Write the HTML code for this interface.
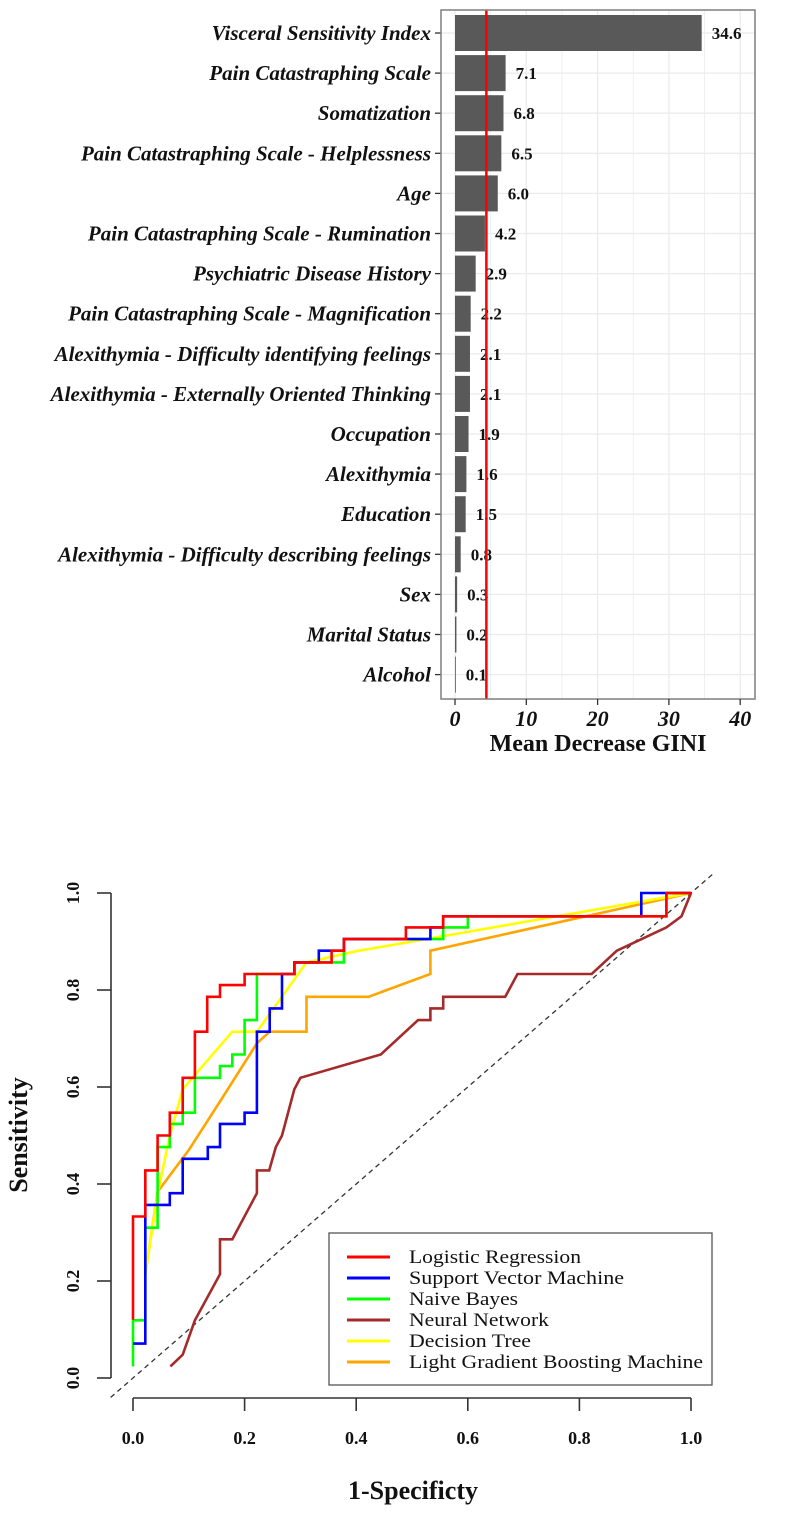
<!DOCTYPE html>
<html><head><meta charset="utf-8">
<style>
html,body{margin:0;padding:0;background:#fff;}
svg{display:block;font-family:"Liberation Serif",serif;}
</style></head>
<body>
<svg id="root" width="797" height="1514" viewBox="0 0 797 1514">
<g id="bar-chart"></g>
<g id="roc-chart"></g>
</svg>
<script>
// ---- Bar chart data ----
const features = ["Visceral Sensitivity Index","Pain Catastraphing Scale","Somatization","Pain Catastraphing Scale - Helplessness","Age","Pain Catastraphing Scale - Rumination","Psychiatric Disease History","Pain Catastraphing Scale - Magnification","Alexithymia - Difficulty identifying feelings","Alexithymia - Externally Oriented Thinking","Occupation","Alexithymia","Education","Alexithymia - Difficulty describing feelings","Sex","Marital Status","Alcohol"];
const giniValues = [34.6,7.1,6.8,6.5,6.0,4.2,2.9,2.2,2.1,2.1,1.9,1.6,1.5,0.8,0.3,0.2,0.1];
const giniLabels = ["34.6","7.1","6.8","6.5","6.0","4.2","2.9","2.2","2.1","2.1","1.9","1.6","1.5","0.8","0.3","0.2","0.1"];
const giniTicks = [0,10,20,30,40];
const giniMean = 4.4;

// ---- ROC data (FPR / TPR) ----
const lrFpr = [0,0,0.022,0.022,0.044,0.044,0.066,0.066,0.089,0.089,0.111,0.111,0.133,0.133,0.156,0.156,0.2,0.2,0.289,0.289,0.356,0.356,0.378,0.378,0.489,0.489,0.556,0.556,0.956,0.956,1];
const lrTpr = [0.12,0.333,0.333,0.428,0.428,0.5,0.5,0.547,0.547,0.619,0.619,0.714,0.714,0.786,0.786,0.81,0.81,0.833,0.833,0.857,0.857,0.881,0.881,0.905,0.905,0.929,0.929,0.952,0.952,1,1];
const svmFpr = [0,0.022,0.022,0.044,0.044,0.066,0.066,0.089,0.089,0.134,0.134,0.156,0.156,0.2,0.2,0.222,0.222,0.245,0.245,0.267,0.267,0.289,0.289,0.333,0.333,0.378,0.378,0.533,0.533,0.556,0.556,0.911,0.911,1];
const svmTpr = [0.071,0.071,0.357,0.357,0.357,0.357,0.381,0.381,0.452,0.452,0.476,0.476,0.524,0.524,0.547,0.547,0.714,0.714,0.762,0.762,0.833,0.833,0.857,0.857,0.881,0.881,0.905,0.905,0.929,0.929,0.952,0.952,1,1];
const nbFpr = [0,0,0.022,0.022,0.044,0.044,0.066,0.066,0.089,0.089,0.111,0.111,0.156,0.156,0.178,0.178,0.2,0.2,0.222,0.222,0.29,0.29,0.378,0.378,0.556,0.556,0.6,0.6,0.956,0.956,1];
const nbTpr = [0.024,0.119,0.119,0.31,0.31,0.476,0.476,0.524,0.524,0.547,0.547,0.619,0.619,0.643,0.643,0.667,0.667,0.738,0.738,0.833,0.833,0.857,0.857,0.905,0.905,0.929,0.929,0.952,0.952,1,1];
const nnFpr = [0.067,0.089,0.111,0.156,0.156,0.178,0.222,0.222,0.244,0.256,0.267,0.289,0.3,0.444,0.511,0.533,0.533,0.556,0.556,0.667,0.689,0.822,0.867,0.956,0.983,1];
const nnTpr = [0.024,0.048,0.119,0.214,0.286,0.286,0.381,0.428,0.428,0.476,0.5,0.595,0.619,0.667,0.738,0.738,0.762,0.762,0.786,0.786,0.833,0.833,0.881,0.929,0.952,1];
const dtFpr = [0.022,0.044,0.066,0.089,0.111,0.178,0.222,0.311,0.4,1];
const dtTpr = [0.214,0.38,0.5,0.595,0.625,0.714,0.714,0.857,0.88,1];
const lgbFpr = [0.022,0.044,0.1,0.156,0.222,0.245,0.311,0.311,0.422,0.533,0.533,1];
const lgbTpr = [0.214,0.384,0.47,0.57,0.69,0.714,0.714,0.786,0.786,0.833,0.881,1];
const rocTicks = [0,0.2,0.4,0.6,0.8,1.0];
const rocTickLabels = ["0.0","0.2","0.4","0.6","0.8","1.0"];
const legendNames = ["Logistic Regression","Support Vector Machine","Naive Bayes","Neural Network","Decision Tree","Light Gradient Boosting Machine"];

const NS="http://www.w3.org/2000/svg";
function mk(parent,tag,attrs,text){const e=document.createElementNS(NS,tag);for(const k in attrs)e.setAttribute(k,attrs[k]);if(text!==undefined)e.textContent=text;parent.appendChild(e);return e;}

// ---- Bar chart ----
(function(){
const g=document.getElementById('bar-chart');
const px0=441,px1=755,py0=10,py1=699;
const bx=v=>455+v*7.13;
const by=i=>33+i*40.1;
const panel=mk(g,'rect',{x:px0,y:py0,width:px1-px0,height:py1-py0,fill:'#fff'});


for(let v=0;v<=40;v+=5){const l=mk(g,'line',{x1:bx(v),x2:bx(v),y1:py0,y2:py1,stroke:'#ebebeb','stroke-width':v%10===0?1.3:0.8});
}
features.forEach((f,i)=>{const l=mk(g,'line',{x1:px0,x2:px1,y1:by(i),y2:by(i),stroke:'#ebebeb','stroke-width':1.3});
});
features.forEach((f,i)=>{
 const r=mk(g,'rect',{x:bx(0),y:by(i)-18,width:Math.max(bx(giniValues[i])-bx(0),0.8),height:36,fill:'#595959'});
 
 
 const t=mk(g,'text',{x:bx(giniValues[i])+10,y:by(i)+6,'font-size':17,'font-weight':'bold',fill:'#111'},giniLabels[i]);
 
 const tk=mk(g,'line',{x1:px0-6,x2:px0,y1:by(i),y2:by(i),stroke:'#333','stroke-width':1.3});
 
 const lb=mk(g,'text',{x:px0-10,y:by(i)+7,'font-size':21,'font-weight':'bold','font-style':'italic','text-anchor':'end',fill:'#111'},f);
 
});
const ml=mk(g,'line',{x1:bx(giniMean),x2:bx(giniMean),y1:py0,y2:py1,stroke:'#ff0000','stroke-width':2.5});

const bd=mk(g,'rect',{x:px0,y:py0,width:px1-px0,height:py1-py0,fill:'none',stroke:'#7f7f7f','stroke-width':1.5});

giniTicks.forEach(v=>{
 const tk=mk(g,'line',{x1:bx(v),x2:bx(v),y1:py1,y2:py1+6,stroke:'#333','stroke-width':1.3});
 
 const t=mk(g,'text',{x:bx(v),y:py1+27,'font-size':22,'font-weight':'bold','font-style':'italic','text-anchor':'middle',fill:'#111'},String(v));
 
});
const xt=mk(g,'text',{x:598,y:751,'font-size':24,'font-weight':'bold','text-anchor':'middle',fill:'#111'},'Mean Decrease GINI');

})();

// ---- ROC chart ----
(function(){
const g=document.getElementById('roc-chart');
const sx=v=>133+v*558;
const sy=v=>1378-v*485;
const yax=mk(g,'line',{x1:111,x2:111,y1:sy(0),y2:sy(1),stroke:'#333','stroke-width':1.6});

const xax=mk(g,'line',{x1:sx(0),x2:sx(1),y1:1398,y2:1398,stroke:'#333','stroke-width':1.6});

rocTicks.forEach((v,i)=>{
 const a=mk(g,'line',{x1:97,x2:111,y1:sy(v),y2:sy(v),stroke:'#333','stroke-width':1.6});
 
 const ty=mk(g,'text',{x:0,y:0,'font-size':18,'font-weight':'bold','text-anchor':'middle',transform:`translate(79,${sy(v)}) rotate(-90)`,fill:'#111'},rocTickLabels[i]);
 
 const b=mk(g,'line',{x1:sx(v),x2:sx(v),y1:1398,y2:1411,stroke:'#333','stroke-width':1.6});
 
 const tx=mk(g,'text',{x:sx(v),y:1444,'font-size':18,'font-weight':'bold','text-anchor':'middle',fill:'#111'},rocTickLabels[i]);
 
});
const yt=mk(g,'text',{x:0,y:0,'font-size':26,'font-weight':'bold','text-anchor':'middle',transform:'translate(27,1135) rotate(-90)',fill:'#111'},'Sensitivity');

const xt=mk(g,'text',{x:413,y:1499,'font-size':26,'font-weight':'bold','text-anchor':'middle',fill:'#111'},'1-Specificty');

const dg=mk(g,'line',{x1:sx(-0.04),y1:sy(-0.04),x2:sx(1.04),y2:sy(1.04),stroke:'#333','stroke-width':1.3,'stroke-dasharray':'5,4'});

const series=[
 ['curve-lightgbm',lgbFpr,lgbTpr,'#ffa500'],
 ['curve-decision-tree',dtFpr,dtTpr,'#ffff00'],
 ['curve-neural-network',nnFpr,nnTpr,'#a52a2a'],
 ['curve-naive-bayes',nbFpr,nbTpr,'#00ff00'],
 ['curve-svm',svmFpr,svmTpr,'#0000ff'],
 ['curve-logistic-regression',lrFpr,lrTpr,'#ff0000']];
series.forEach(s=>{
 const pts=s[1].map((x,i)=>sx(x).toFixed(1)+','+sy(s[2][i]).toFixed(1)).join(' ');
 const p=mk(g,'polyline',{points:pts,fill:'none',stroke:s[3],'stroke-width':2.6,'stroke-linejoin':'miter'});
 
});
const lg=mk(g,'g',{});

const lb=mk(lg,'rect',{x:329,y:1233,width:383,height:152,fill:'#fff',stroke:'#555','stroke-width':1.3});

const lcols=['#ff0000','#0000ff','#00ff00','#a52a2a','#ffff00','#ffa500'];
const widths=[172,215,109,140,122,294];
legendNames.forEach((n,i)=>{
 const y=1257+i*21;
 const l=mk(lg,'line',{x1:347,x2:390,y1:y,y2:y,stroke:lcols[i],'stroke-width':3});
 
 const t=mk(lg,'text',{x:409,y:y+6,'font-size':19,fill:'#111',textLength:widths[i],lengthAdjust:'spacingAndGlyphs'},n);
 
});
})();
</script>
</body></html>
